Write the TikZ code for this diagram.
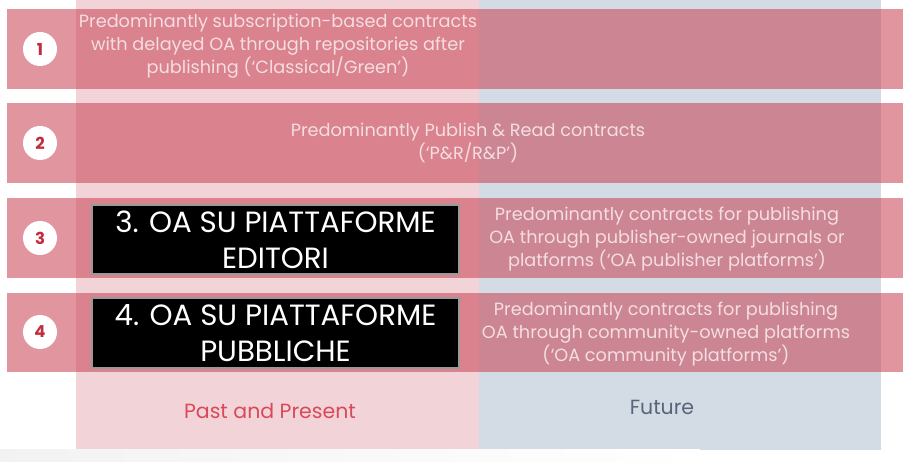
\documentclass[tikz,border=0pt]{standalone}
\usepackage{fontspec}
\setmainfont{Poppins}
\definecolor{colpink}{HTML}{F2D4D8}
\definecolor{colblue}{HTML}{D3DBE5}
\definecolor{rowred}{HTML}{C84050}
\definecolor{rowtext}{HTML}{F4DEE1}
\definecolor{numred}{HTML}{C42B3C}
\definecolor{pastred}{HTML}{D84A5B}
\definecolor{futgray}{HTML}{586579}
\tikzset{
  rowband/.style={fill=rowred, fill opacity=0.55, draw=none},
  numcircle/.style={circle, fill=white, draw=none, minimum size=34pt, inner sep=0pt,
    text=numred, font=\fontsize{16.5}{16.5}\selectfont\bfseries},
  rowlabel/.style={text=rowtext, align=center, font=\fontsize{17.7}{23}\selectfont, inner sep=0pt},
  blackbox/.style={fill=black, draw=gray!80, line width=1.5pt, text=white, align=center,
    font=\fontsize{29.3}{36}\selectfont, inner sep=0pt},
  collabel/.style={font=\fontsize{20.5}{22}\selectfont, inner sep=0pt}
}
\begin{document}
\begin{tikzpicture}[x=1pt,y=-1pt]
\useasboundingbox (0,0) rectangle (903,462);
% columns
\fill[colpink] (76,0) rectangle (479,450);
\fill[colblue] (479,0) rectangle (881,450);
\shade[left color=gray!10, right color=white] (0,450) rectangle (700,462);
% row bands
\fill[rowband] (7,9) rectangle (903,89);
\fill[rowband] (7,103) rectangle (903,183);
\fill[rowband] (7,198) rectangle (903,278);
\fill[rowband] (7,293) rectangle (903,372);
% number circles
\node[numcircle] (n1) at (40,49) {1};
\node[numcircle] (n2) at (40,143) {2};
\node[numcircle] (n3) at (40,238) {3};
\node[numcircle] (n4) at (40,332) {4};
% row texts
\node[rowlabel] (t1) at (278,46) {Predominantly subscription-based contracts\\with delayed OA through repositories after\\publishing (‘Classical/Green’)};
\node[rowlabel] (t2) at (468,143) {Predominantly Publish \& Read contracts\\(‘P\&R/R\&P’)};
\node[rowlabel] (t3) at (667,239) {Predominantly contracts for publishing\\OA through publisher-owned journals or\\platforms (‘OA publisher platforms’)};
\node[rowlabel] (t4) at (666,334) {Predominantly contracts for publishing\\OA through community-owned platforms\\(‘OA community platforms’)};
% black boxes
\node[blackbox, minimum width=367pt, minimum height=69pt] (b3) at (275.5,239.5) {3. OA SU PIATTAFORME\\EDITORI};
\node[blackbox, minimum width=367pt, minimum height=70pt] (b4) at (275.5,333) {4. OA SU PIATTAFORME\\PUBBLICHE};
% column labels
\node[collabel, text=pastred] (past) at (270,411) {Past and Present};
\node[collabel, text=futgray] (fut) at (662,407) {Future};
\end{tikzpicture}
\end{document}
